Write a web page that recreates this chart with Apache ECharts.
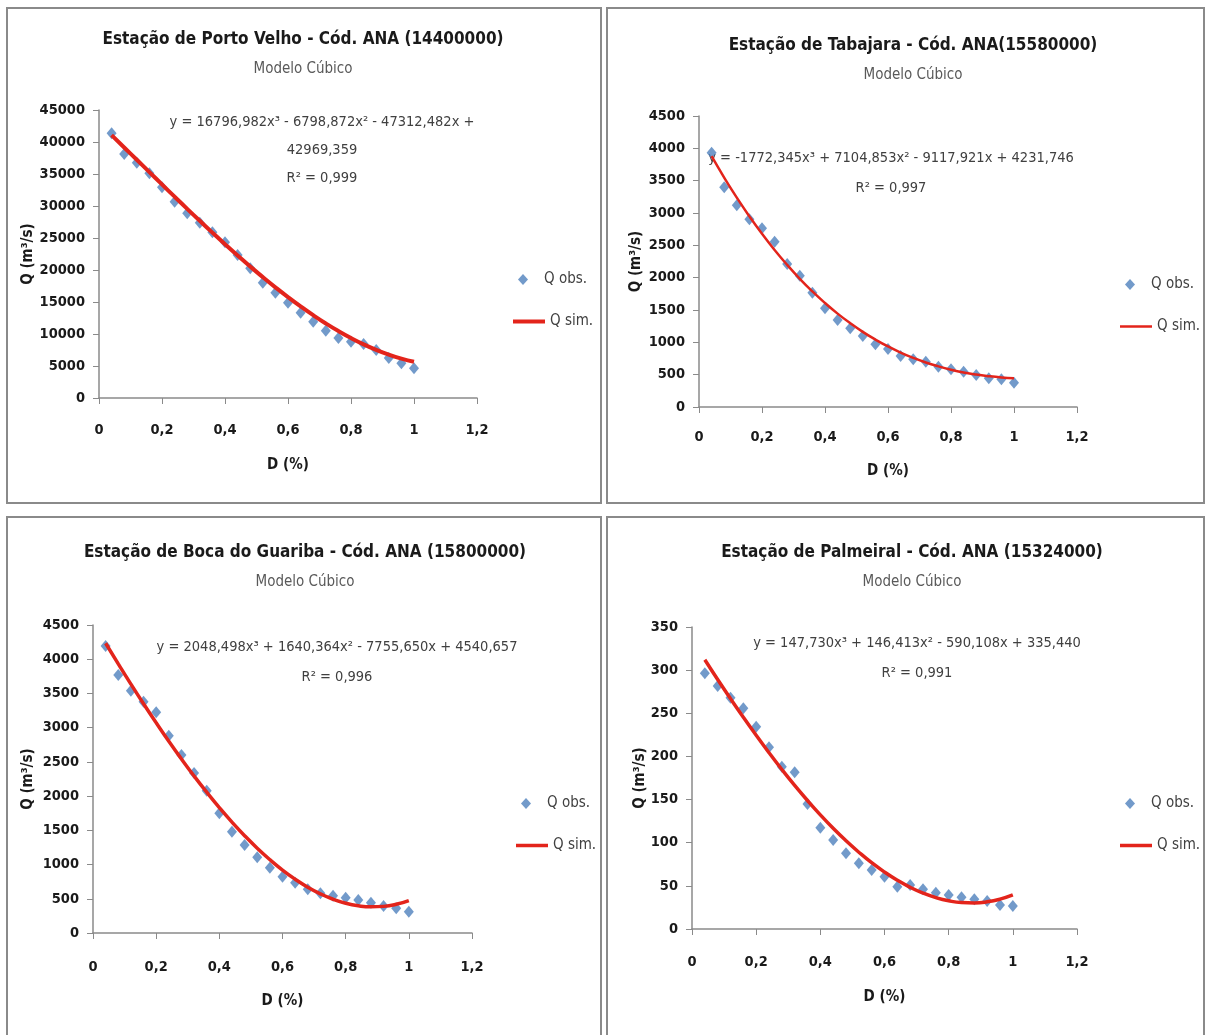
<!DOCTYPE html>
<html>
<head>
<meta charset="utf-8">
<title>Curvas de permanência - Modelo Cúbico</title>
<script src="https://cdn.jsdelivr.net/npm/echarts@6/dist/echarts.min.js"></script>
<style>
  html, body { margin: 0; padding: 0; background: #fff; }
  #chart { width: 1208px; height: 1035px; }
</style>
</head>
<body>
<div id="chart"></div>
<script>
// permanência D (%) - mesma para as 4 estações
const xD = [0.04, 0.08, 0.12, 0.16, 0.20, 0.24, 0.28, 0.32, 0.36, 0.40, 0.44, 0.48, 0.52,
  0.56, 0.60, 0.64, 0.68, 0.72, 0.76, 0.80, 0.84, 0.88, 0.92, 0.96, 1.00];

// Porto Velho (14400000)
const obsPortoVelho = [41360, 38125, 36770, 35100, 32920, 30680, 28850, 27400, 25890, 24330,
  22340, 20270, 18020, 16460, 14900, 13330, 11930, 10520, 9375, 8800, 8440, 7500, 6250, 5420, 4640];
const simPortoVelho = [41067, 39149, 37223, 35294, 33369, 31455, 29558, 27684, 25839, 24032,
  22266, 20551, 18890, 17292, 15762, 14308, 12935, 11649, 10458, 9368, 8385, 7516, 6767, 6144, 5655];

// Tabajara (15580000)
const obsTabajara = [3932, 3397, 3119, 2902, 2763, 2556, 2211, 2031, 1768, 1526, 1345, 1217, 1098,
  969, 897, 789, 737, 700, 623, 583, 546, 495, 444, 428, 375];
const simTabajara = [3878, 3547, 3237, 2948, 2678, 2428, 2197, 1983, 1787, 1608, 1444, 1296, 1162,
  1043, 936, 842, 760, 688, 628, 577, 535, 502, 477, 458, 446];

// Boca do Guariba (15800000)
const obsGuariba = [4193, 3770, 3540, 3380, 3224, 2883, 2601, 2337, 2079, 1749, 1481, 1286, 1106,
  955, 823, 735, 638, 580, 545, 516, 482, 443, 394, 361, 311];
const simGuariba = [4233, 3932, 3637, 3350, 3072, 2802, 2543, 2294, 2057, 1832, 1620, 1422, 1239,
  1072, 920, 786, 669, 572, 493, 435, 398, 382, 389, 419, 474];

// Palmeiral (15324000)
const obsPalmeiral = [296.3, 281.6, 268.1, 255.8, 234.5, 210.6, 188.1, 181.6, 144.9, 117.4, 103.1,
  87.7, 76.1, 68.4, 60.6, 49.0, 51.0, 46.0, 42.1, 39.4, 36.7, 34.4, 32.4, 27.8, 26.7];
const simPalmeiral = [312.1, 289.2, 267.0, 245.4, 224.5, 204.3, 184.9, 166.4, 148.9, 132.3, 116.7,
  102.3, 89.0, 76.8, 66.0, 56.5, 48.3, 41.6, 36.4, 32.7, 30.6, 30.2, 31.5, 34.6, 39.5];

const titles = [
  "Estação de Porto Velho - Cód. ANA (14400000)",
  "Estação de Tabajara - Cód. ANA(15580000)",
  "Estação de Boca do Guariba - Cód. ANA (15800000)",
  "Estação de Palmeiral - Cód. ANA (15324000)"
];
const equations = [
  ["y = 16796,982x³ - 6798,872x² - 47312,482x +", "42969,359", "R² = 0,999"],
  ["y = -1772,345x³ + 7104,853x² - 9117,921x + 4231,746", "R² = 0,997"],
  ["y = 2048,498x³ + 1640,364x² - 7755,650x + 4540,657", "R² = 0,996"],
  ["y = 147,730x³ + 146,413x² - 590,108x + 335,440", "R² = 0,991"]
];
const yMax = [45000, 4500, 4500, 350];
const yStep = [5000, 500, 500, 50];

const FONT = '"Liberation Sans Narrow", "DejaVu Sans Condensed", "Roboto Condensed", sans-serif';
const BLUE = "#4F81BD";
const RED = "#E3241B";

// posicao de cada painel (moldura, area do grafico, titulo, equacao, legenda, distancias dos eixos)
const panels = [
  { box: [7, 8, 594, 495], grid: [99, 110, 378, 288], cx: 298, ty: 26, eq: [322, 122], eqGap: 28,
    leg: [508, 276], lw: 4, xm: 25, xn: 60, yn: 63 },
  { box: [607, 8, 597, 495], grid: [699, 116, 378, 291], cx: 908, ty: 32, eq: [891, 158], eqGap: 30,
    leg: [1115, 281], lw: 2.5, xm: 23, xn: 57, yn: 55 },
  { box: [7, 517, 594, 530], grid: [93, 625, 379, 308], cx: 300, ty: 539, eq: [337, 647], eqGap: 30,
    leg: [511, 800], lw: 3.5, xm: 27, xn: 61, yn: 57 },
  { box: [607, 517, 597, 530], grid: [692, 627, 385, 302], cx: 907, ty: 539, eq: [917, 643], eqGap: 30,
    leg: [1115, 800], lw: 3.5, xm: 26, xn: 61, yn: 44 }
];
const obsAll = [obsPortoVelho, obsTabajara, obsGuariba, obsPalmeiral];
const simAll = [simPortoVelho, simTabajara, simGuariba, simPalmeiral];

let title = [], grid = [], xAxis = [], yAxis = [], legend = [], series = [], graphic = [];

const axisFont = { fontFamily: FONT, fontSize: 14.5, fontWeight: "bold", color: "#1a1a1a" };
const nameFont = { fontFamily: FONT, fontSize: 15, fontWeight: "bold", color: "#1a1a1a" };

panels.forEach(function (p, i) {
  title.push({
    text: titles[i],
    subtext: "Modelo Cúbico",
    left: p.cx,
    top: p.ty,
    textAlign: "center",
    itemGap: 14,
    textStyle: { fontFamily: FONT, fontSize: 17, fontWeight: "bold", color: "#1a1a1a" },
    subtextStyle: { fontFamily: FONT, fontSize: 15, color: "#595959" }
  });
  grid.push({ left: p.grid[0], top: p.grid[1], width: p.grid[2], height: p.grid[3] });
  xAxis.push({
    type: "value",
    gridIndex: i,
    min: 0,
    max: 1.2,
    interval: 0.2,
    name: "D (%)",
    nameLocation: "middle",
    nameGap: p.xn,
    nameMoveOverlap: false,
    nameTextStyle: nameFont,
    axisLine: { lineStyle: { color: "#8a8a8a", width: 1.5 } },
    axisTick: { show: true, length: 6, lineStyle: { color: "#8a8a8a" } },
    axisLabel: Object.assign({
      margin: p.xm,
      formatter: function (v) { return String(Math.round(v * 10) / 10).replace(".", ","); }
    }, axisFont),
    splitLine: { show: false }
  });
  yAxis.push({
    type: "value",
    gridIndex: i,
    min: 0,
    max: yMax[i],
    interval: yStep[i],
    name: "Q (m³/s)",
    nameLocation: "middle",
    nameGap: p.yn,
    nameMoveOverlap: false,
    nameTextStyle: nameFont,
    axisLine: { show: true, lineStyle: { color: "#8a8a8a", width: 1.5 } },
    axisTick: { show: true, length: 6, lineStyle: { color: "#8a8a8a" } },
    axisLabel: Object.assign({
      margin: 14,
      formatter: function (v) { return String(v); }
    }, axisFont),
    splitLine: { show: false }
  });
  // duas legendas por painel: losango e linha têm tamanhos diferentes
  legend.push({
    left: p.leg[0] + 5,
    top: p.leg[1] - 9,
    itemWidth: 10,
    itemHeight: 11,
    textStyle: { fontFamily: FONT, fontSize: 15, color: "#404040", padding: [0, 0, 0, 11] },
    data: [{ name: "Q obs.", icon: "diamond", itemStyle: { color: BLUE } }],
    selectedMode: false
  });
  legend.push({
    left: p.leg[0],
    top: p.leg[1] + 42 - 9,
    itemWidth: 32,
    itemHeight: p.lw,
    textStyle: { fontFamily: FONT, fontSize: 15, color: "#404040" },
    data: [{ name: "Q sim.", icon: "rect", itemStyle: { color: RED } }],
    selectedMode: false
  });
  series.push({
    name: "Q obs.",
    type: "scatter",
    xAxisIndex: i,
    yAxisIndex: i,
    symbol: "diamond",
    symbolSize: [10, 12],
    itemStyle: { color: BLUE },
    data: xD.map(function (x, k) { return [x, obsAll[i][k]]; }),
    z: 2
  });
  series.push({
    name: "Q sim.",
    type: "line",
    xAxisIndex: i,
    yAxisIndex: i,
    smooth: true,
    showSymbol: false,
    symbol: "none",
    lineStyle: { color: RED, width: p.lw },
    itemStyle: { color: RED },
    data: xD.map(function (x, k) { return [x, simAll[i][k]]; }),
    z: 3
  });
  graphic.push({
    type: "rect",
    shape: { x: p.box[0], y: p.box[1], width: p.box[2], height: p.box[3] },
    style: { fill: "none", stroke: "#8a8a8a", lineWidth: 2 },
    silent: true
  });
  equations[i].forEach(function (line, j) {
    graphic.push({
      type: "text",
      x: p.eq[0],
      y: p.eq[1] + j * p.eqGap,
      style: {
        text: line,
        textAlign: "center",
        textVerticalAlign: "middle",
        font: "14.5px " + FONT,
        fill: "#404040"
      },
      silent: true
    });
  });
});

const chart = echarts.init(document.getElementById("chart"), null, { renderer: "canvas" });
chart.setOption({
  animation: false,
  backgroundColor: "#ffffff",
  title: title,
  grid: grid,
  xAxis: xAxis,
  yAxis: yAxis,
  legend: legend,
  series: series,
  graphic: graphic
});
</script>
</body>
</html>
